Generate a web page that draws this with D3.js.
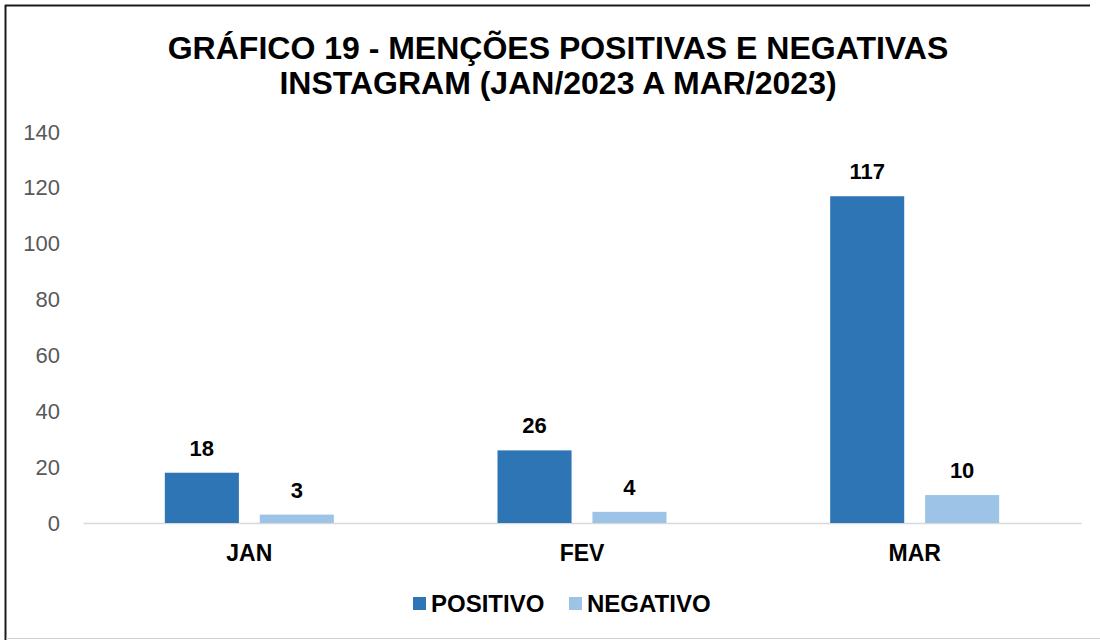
<!DOCTYPE html>
<html>
<head>
<meta charset="utf-8">
<script src="https://cdn.jsdelivr.net/npm/d3@7"></script>
<style>
  body { margin: 0; background: #fff; }
  text { font-family: "Liberation Sans", Arial, sans-serif; }
</style>
</head>
<body>
<script>
var categories = ["JAN", "FEV", "MAR"];
var seriesNames = ["POSITIVO", "NEGATIVO"];
var positivo = [18, 26, 117];
var negativo = [3, 4, 10];
var yTicks = [0, 20, 40, 60, 80, 100, 120, 140];
var colors = ["#2E75B6", "#9DC3E6"];

var W = 1100, H = 640;
var svg = d3.select("body").append("svg")
  .attr("width", W).attr("height", H);

// frame (top/left dark, bottom light)
svg.append("line").attr("x1", 5).attr("x2", 1090).attr("y1", 5.5).attr("y2", 5.5)
  .attr("stroke", "#1a1a1a").attr("stroke-width", 2);
svg.append("line").attr("x1", 5.5).attr("x2", 5.5).attr("y1", 5).attr("y2", 640)
  .attr("stroke", "#1a1a1a").attr("stroke-width", 2);
svg.append("line").attr("x1", 6).attr("x2", 1100).attr("y1", 638.5).attr("y2", 638.5)
  .attr("stroke", "#d0d0d0").attr("stroke-width", 1);

// title
var title = svg.append("text")
  .attr("text-anchor", "middle")
  .attr("font-size", 32).attr("font-weight", "bold").attr("fill", "#000");
title.append("tspan").attr("x", 558).attr("y", 59).text("GRÁFICO 19 - MENÇÕES POSITIVAS E NEGATIVAS");
title.append("tspan").attr("x", 558).attr("y", 94).text("INSTAGRAM (JAN/2023 A MAR/2023)");

var x0 = d3.scaleBand().domain(categories).range([83, 1081]);
var x1 = d3.scaleBand().domain(seriesNames).range([0, 169]).paddingInner(0.22);
var y = d3.scaleLinear().domain([0, 140]).range([523, 132]);

// y axis labels
var yAxis = d3.axisLeft(y).tickValues(yTicks).tickSize(0).tickPadding(0);
var yg = svg.append("g").attr("transform", "translate(60,0)").call(yAxis);
yg.select(".domain").remove();
yg.selectAll("text")
  .attr("font-family", "Lato, 'Open Sans', sans-serif")
  .attr("font-size", 22).attr("fill", "#595959");

// baseline
var xAxis = d3.axisBottom(x0).tickSize(0).tickPadding(22);
var xg = svg.append("g").attr("transform", "translate(0,523)").call(xAxis);
xg.select(".domain").attr("stroke", "#d9d9d9").attr("stroke-width", 1.5);
xg.selectAll("text")
  .attr("font-family", "'Liberation Sans', Arial, sans-serif")
  .attr("font-size", 23).attr("font-weight", "bold").attr("fill", "#000");

var rows = categories.map(function(c, i) {
  return { cat: c, vals: [positivo[i], negativo[i]] };
});

var groups = svg.selectAll("g.grp").data(rows).enter().append("g")
  .attr("class", "grp")
  .attr("transform", function(d) {
    return "translate(" + (x0(d.cat) + (x0.bandwidth() - 169) / 2) + ",0)";
  });

groups.selectAll("rect")
  .data(function(d) { return d.vals.map(function(v, j) { return { s: seriesNames[j], v: v, j: j }; }); })
  .enter().append("rect")
  .attr("x", function(d) { return x1(d.s); })
  .attr("y", function(d) { return y(d.v); })
  .attr("width", x1.bandwidth())
  .attr("height", function(d) { return y(0) - y(d.v); })
  .attr("fill", function(d) { return colors[d.j]; });

groups.selectAll("text.lbl")
  .data(function(d) { return d.vals.map(function(v, j) { return { s: seriesNames[j], v: v }; }); })
  .enter().append("text")
  .attr("class", "lbl")
  .attr("x", function(d) { return x1(d.s) + x1.bandwidth() / 2; })
  .attr("y", function(d) { return y(d.v) - 17; })
  .attr("text-anchor", "middle")
  .attr("font-size", 22).attr("font-weight", "bold").attr("fill", "#000")
  .text(function(d) { return d.v; });

// legend
var legendX = [413, 569];
var lg = svg.selectAll("g.leg").data(seriesNames).enter().append("g")
  .attr("class", "leg")
  .attr("transform", function(d, i) { return "translate(" + legendX[i] + ",597)"; });
lg.append("rect").attr("width", 13).attr("height", 13)
  .attr("fill", function(d, i) { return colors[i]; });
lg.append("text").attr("x", 18).attr("y", 15)
  .attr("font-size", 24).attr("font-weight", "bold").attr("fill", "#000")
  .text(function(d) { return d; });
</script>
</body>
</html>
